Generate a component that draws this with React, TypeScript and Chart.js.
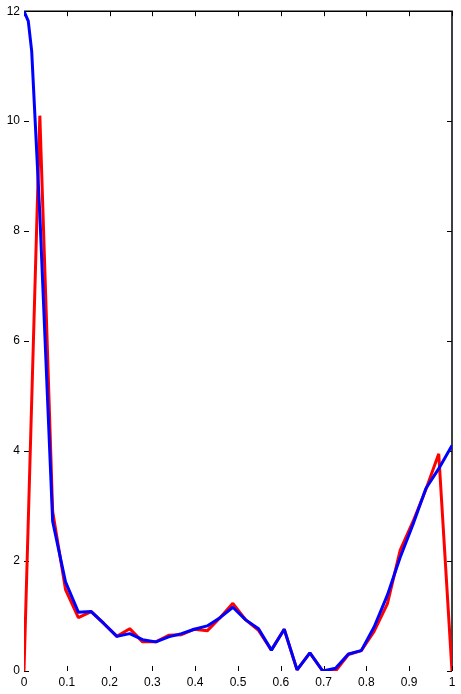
import React, { useEffect, useRef } from "react";
import { Chart, registerables } from "chart.js";

Chart.register(...registerables);

const X_TICKS = [0, 0.1, 0.2, 0.3, 0.4, 0.5, 0.6, 0.7, 0.8, 0.9, 1];
const X_TICK_LABELS = ["0", "0.1", "0.2", "0.3", "0.4", "0.5", "0.6", "0.7", "0.8", "0.9", "1"];
const Y_TICKS = [0, 2, 4, 6, 8, 10, 12];
const Y_TICK_LABELS = ["0", "2", "4", "6", "8", "10", "12"];

const RED_X = [
  0, 0.037, 0.067, 0.097, 0.127, 0.157, 0.187, 0.217, 0.247, 0.277, 0.308, 0.338,
  0.368, 0.398, 0.428, 0.458, 0.488, 0.518, 0.548, 0.578, 0.608, 0.638, 0.668,
  0.698, 0.728, 0.758, 0.788, 0.818, 0.849, 0.879, 0.909, 0.939, 0.969, 1,
];
const RED_Y = [
  0, 10.1, 2.9, 1.48, 0.97, 1.08, 0.86, 0.63, 0.77, 0.53, 0.53, 0.65,
  0.66, 0.76, 0.73, 0.97, 1.23, 0.93, 0.74, 0.38, 0.76, 0.02, 0.33,
  0.0, 0.0, 0.3, 0.37, 0.72, 1.22, 2.2, 2.72, 3.3, 3.95, 0,
];

const BLUE_X = [
  0, 0.01, 0.018, 0.037, 0.067, 0.097, 0.127, 0.157, 0.187, 0.217, 0.247, 0.277,
  0.308, 0.338, 0.368, 0.398, 0.428, 0.458, 0.488, 0.518, 0.548, 0.578, 0.608,
  0.638, 0.668, 0.698, 0.728, 0.758, 0.788, 0.818, 0.849, 0.879, 0.909, 0.939,
  0.969, 1,
];
const BLUE_Y = [
  12, 11.82, 11.27, 8.3, 2.72, 1.62, 1.07, 1.08, 0.86, 0.63, 0.68, 0.57,
  0.53, 0.62, 0.68, 0.76, 0.82, 0.97, 1.16, 0.93, 0.77, 0.38, 0.76,
  0.02, 0.33, 0.0, 0.05, 0.31, 0.37, 0.8, 1.38, 2.07, 2.67, 3.32,
  3.68, 4.1,
];

const framePlugin = {
  id: "frame",
  beforeDatasetsDraw(chart: any) {
    const { ctx, chartArea, scales } = chart;
    const { left, right, top, bottom } = chartArea;
    const t = 5;
    ctx.save();
    ctx.strokeStyle = "#000";
    ctx.lineWidth = 1.5;
    ctx.beginPath();
    ctx.moveTo(left, top);
    ctx.lineTo(right, top);
    ctx.lineTo(right, bottom);
    ctx.stroke();
    ctx.lineWidth = 1;
    ctx.beginPath();
    X_TICKS.forEach((v) => {
      const px = Math.round(scales.x.getPixelForValue(v)) + 0.5;
      ctx.moveTo(px, bottom);
      ctx.lineTo(px, bottom - t);
      ctx.moveTo(px, top);
      ctx.lineTo(px, top + t);
    });
    Y_TICKS.forEach((v) => {
      const py = Math.round(scales.y.getPixelForValue(v)) + 0.5;
      ctx.moveTo(left, py);
      ctx.lineTo(left + t, py);
      ctx.moveTo(right, py);
      ctx.lineTo(right - t, py);
    });
    ctx.stroke();
    ctx.restore();
  },
};

export default function App() {
  const ref = useRef<HTMLCanvasElement | null>(null);

  useEffect(() => {
    if (!ref.current) return;
    const font = { family: "'Liberation Sans', Arial, sans-serif", size: 12 };
    const chart = new Chart(ref.current, {
      type: "line",
      data: {
        datasets: [
          {
            label: "blue",
            data: BLUE_X.map((x, i) => ({ x, y: BLUE_Y[i] })),
            borderColor: "#0000ff",
            backgroundColor: "#0000ff",
            borderWidth: 3,
            pointRadius: 0,
            tension: 0,
            borderJoinStyle: "bevel",
            order: 0,
          },
          {
            label: "red",
            data: RED_X.map((x, i) => ({ x, y: RED_Y[i] })),
            borderColor: "#ff0000",
            backgroundColor: "#ff0000",
            borderWidth: 3,
            pointRadius: 0,
            tension: 0,
            borderJoinStyle: "bevel",
            order: 1,
          },
        ],
      },
      options: {
        animation: false,
        responsive: false,
        maintainAspectRatio: false,
        devicePixelRatio: 1,
        layout: { padding: { left: 0, right: 9, top: 10, bottom: 0 } },
        plugins: {
          legend: { display: false },
          tooltip: { enabled: false },
        },
        scales: {
          x: {
            type: "linear",
            min: 0,
            max: 1,
            grid: { display: false, drawTicks: false },
            border: { display: false },
            afterBuildTicks: (scale: any) => {
              scale.ticks = X_TICKS.map((v) => ({ value: v }));
            },
            afterFit: (scale: any) => {
              scale.height = 23;
            },
            ticks: {
              autoSkip: false,
              maxRotation: 0,
              padding: 4,
              color: "#000",
              font,
              callback: (v: any) => {
                const i = X_TICKS.findIndex((t) => Math.abs(t - Number(v)) < 1e-9);
                return i >= 0 ? X_TICK_LABELS[i] : "";
              },
            },
          },
          y: {
            type: "linear",
            min: 0,
            max: 12,
            grid: { display: false, drawTicks: false },
            border: { display: false },
            afterBuildTicks: (scale: any) => {
              scale.ticks = Y_TICKS.map((v) => ({ value: v }));
            },
            afterFit: (scale: any) => {
              scale.width = 24;
            },
            ticks: {
              autoSkip: false,
              padding: 4,
              color: "#000",
              font,
              callback: (v: any) => {
                const i = Y_TICKS.findIndex((t) => Math.abs(t - Number(v)) < 1e-9);
                return i >= 0 ? Y_TICK_LABELS[i] : "";
              },
            },
          },
        },
      },
      plugins: [framePlugin],
    } as any);
    return () => chart.destroy();
  }, []);

  return (
    <div style={{ position: "absolute", left: 0, top: 0, width: 461, height: 694, background: "#fff" }}>
      <canvas ref={ref} width={461} height={694} style={{ display: "block", width: 461, height: 694 }} />
    </div>
  );
}
